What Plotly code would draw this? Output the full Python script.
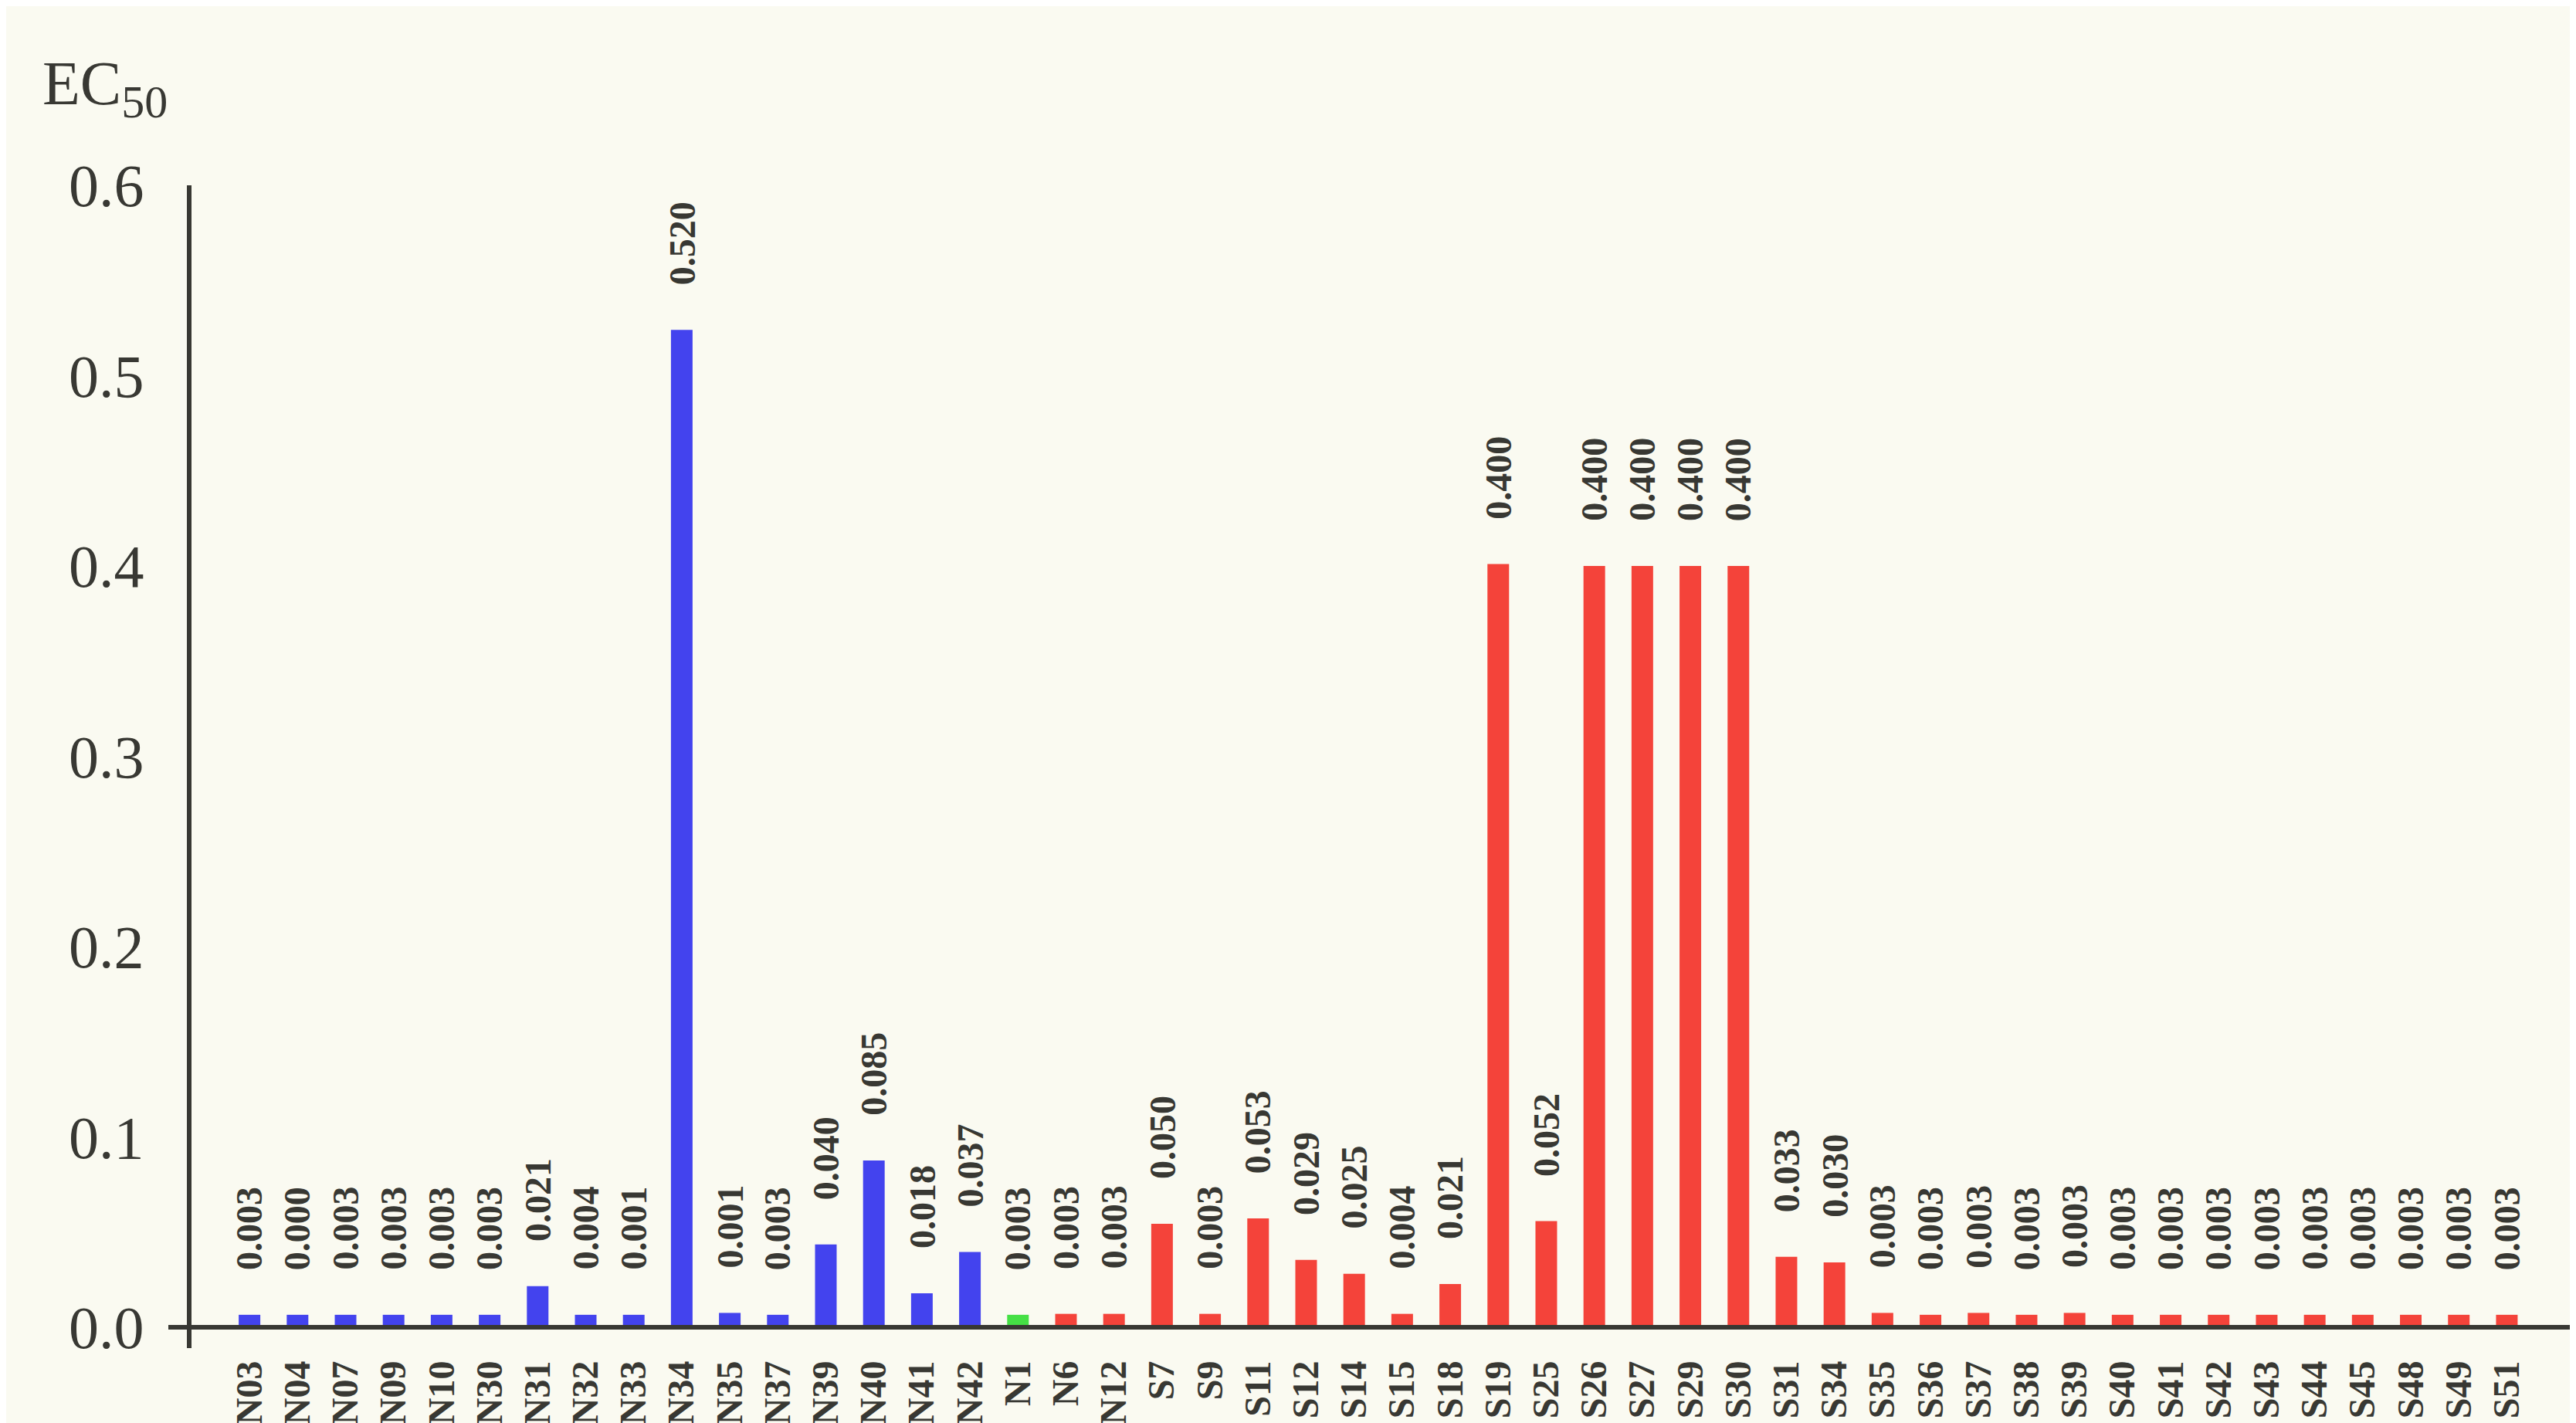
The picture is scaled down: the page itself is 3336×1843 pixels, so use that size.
import plotly.graph_objects as go

# ---- data ----
blue_cats = ["N03", "N04", "N07", "N09", "N10", "N30", "N31", "N32", "N33", "N34",
             "N35", "N37", "N39", "N40", "N41", "N42"]
blue_heights = [0.0065, 0.0065, 0.0065, 0.0065, 0.0065, 0.0065, 0.0216, 0.0065, 0.0065, 0.524,
                0.0075, 0.0065, 0.0435, 0.0876, 0.0178, 0.0395]
blue_labels = ["0.003", "0.000", "0.003", "0.003", "0.003", "0.003", "0.021", "0.004", "0.001", "0.520",
               "0.001", "0.003", "0.040", "0.085", "0.018", "0.037"]

green_cats = ["N1"]
green_heights = [0.0065]
green_labels = ["0.003"]

red_cats = ["N6", "N12", "S7", "S9", "S11", "S12", "S14", "S15", "S18", "S19",
            "S25", "S26", "S27", "S29", "S30", "S31", "S34", "S35", "S36", "S37",
            "S38", "S39", "S40", "S41", "S42", "S43", "S44", "S45", "S48", "S49", "S51"]
red_heights = [0.007, 0.007, 0.0543, 0.007, 0.0572, 0.0354, 0.028, 0.007, 0.0227, 0.401,
               0.0557, 0.400, 0.400, 0.400, 0.400, 0.037, 0.034, 0.0075, 0.0065, 0.0075,
               0.0065, 0.0075, 0.0065, 0.0065, 0.0065, 0.0065, 0.0065, 0.0065, 0.0065, 0.0065, 0.0065]
red_labels = ["0.003", "0.003", "0.050", "0.003", "0.053", "0.029", "0.025", "0.004", "0.021", "0.400",
              "0.052", "0.400", "0.400", "0.400", "0.400", "0.033", "0.030", "0.003", "0.003", "0.003",
              "0.003", "0.003", "0.003", "0.003", "0.003", "0.003", "0.003", "0.003", "0.003", "0.003", "0.003"]

y_ticks = [0.0, 0.1, 0.2, 0.3, 0.4, 0.5, 0.6]
y_ticktext = ["0.0", "0.1", "0.2", "0.3", "0.4", "0.5", "0.6"]

# ---- styling ----
BG = "#fafaf1"
INK = "#383833"
SERIF = "Liberation Serif, Times New Roman, serif"

all_cats = blue_cats + green_cats + red_cats

fig = go.Figure()
series = [
    (blue_cats, blue_heights, blue_labels, "#4343ee"),
    (green_cats, green_heights, green_labels, "#45e045"),
    (red_cats, red_heights, red_labels, "#f4433a"),
]
for cats, hts, labs, col in series:
    fig.add_trace(go.Bar(x=cats, y=hts, marker=dict(color=col, line=dict(width=0)),
                         width=0.45, showlegend=False, hoverinfo="skip"))

annotations = []
for cats, hts, labs, col in series:
    for c, h, t in zip(cats, hts, labs):
        annotations.append(dict(
            x=c, y=h, xref="x", yref="y", text="<b>" + t + "</b>",
            textangle=-90, showarrow=False, yanchor="bottom", xanchor="center",
            yshift=56, font=dict(family=SERIF, size=48, color=INK)))

annotations.append(dict(
    x=-0.053, y=1.118, xref="paper", yref="paper",
    text="EC<sub><span style='font-size:60px'>50</span></sub>",
    showarrow=False, xanchor="left", yanchor="top",
    font=dict(family=SERIF, size=80, color=INK)))

fig.update_layout(
    width=3328, height=1835,
    paper_bgcolor=BG, plot_bgcolor=BG,
    margin=dict(l=210, r=0, t=232, b=97),
    barmode="overlay",
    annotations=annotations,
    shapes=[dict(type="line", xref="paper", yref="y", x0=0, x1=1, y0=0, y1=0,
                 line=dict(color=INK, width=6), layer="above")],
    xaxis=dict(
        type="category", categoryorder="array", categoryarray=all_cats,
        range=[-1.69, 48.44], showline=False, showgrid=False, zeroline=False,
        tickangle=-90, ticks="", ticklabelstandoff=6, automargin=False,
        tickfont=dict(family=SERIF, size=48, color=INK, weight="bold"),
    ),
    yaxis=dict(
        range=[-0.011, 0.6], tickvals=y_ticks, ticktext=y_ticktext,
        showgrid=False, zeroline=False, showline=True, linecolor=INK, linewidth=6,
        anchor="free", position=0.00866, ticks="", ticklabelstandoff=40,
        automargin=False,
        tickfont=dict(family=SERIF, size=78, color=INK),
    ),
)

fig.write_html("out.html")
